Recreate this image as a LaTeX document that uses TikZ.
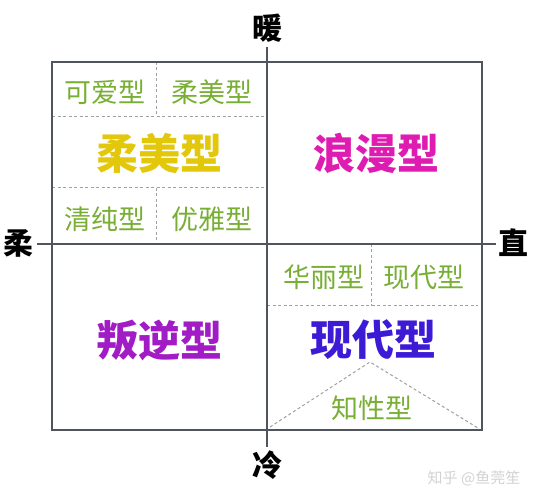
\documentclass[tikz,border=0pt]{standalone}
\usepackage{fontspec}
\setmainfont{Noto Sans CJK SC}
\usetikzlibrary{positioning}

\definecolor{framegray}{HTML}{4F545D}
\definecolor{dashgray}{HTML}{A0A0A4}
\definecolor{leafgreen}{HTML}{78AE34}
\definecolor{softyellow}{HTML}{E2C70A}
\definecolor{romanpink}{HTML}{DE1CB2}
\definecolor{rebelpurple}{HTML}{A21CC6}
\definecolor{modernblue}{HTML}{3C1AD6}

\begin{document}
\begin{tikzpicture}[x=1pt, y=-1pt,
    frame/.style = {draw=framegray, line width=1.5pt},
    divider/.style = {draw=dashgray, dash pattern=on 3pt off 2.5pt, line width=1pt},
    axislabel/.style = {font=\fontsize{30}{30}\selectfont\bfseries, inner sep=0pt},
    subtype/.style = {text=leafgreen, font=\fontsize{27}{27}\selectfont, inner sep=0pt},
    maintype/.style = {font=\fontsize{42}{42}\selectfont\bfseries, inner sep=0pt},
]
    \useasboundingbox (0,0) rectangle (536,497);

    % corners of the frame and ends of the two axes
    \coordinate (nw) at (52,62);
    \coordinate (se) at (482,430);
    \coordinate (top) at (267,47);
    \coordinate (bottom) at (267,447);
    \coordinate (left) at (37,244);
    \coordinate (right) at (496,244);

    % dashed sub-divisions, upper left quadrant
    \coordinate (ul1) at (52,117);
    \coordinate (ul2) at (52,188);
    \draw[divider] (ul1) -- (ul1 -| top);
    \draw[divider] (ul2) -- (ul2 -| top);
    \draw[divider] (156,62) -- (156,117);
    \draw[divider] (156,188) -- (156,244);

    % dashed sub-divisions, lower right quadrant
    \coordinate (lr1) at (267,306);
    \coordinate (lr2) at (478,306);
    \draw[divider] (lr1) -- (lr2);
    \draw[divider] (371,244) -- (371,306);
    \coordinate (apex) at (370,362);
    \draw[divider] (270,427) -- (apex) -- (478,428);

    % frame and axes
    \draw[frame] (nw) rectangle (se);
    \draw[frame] (top) -- (bottom);
    \draw[frame] (left) -- (right);

    % axis labels
    \node[axislabel] (warm) at (267,28) {暖};
    \node[axislabel] (cold) at (267,465) {冷};
    \node[axislabel] (soft) at (19,243) {柔};
    \node[axislabel] (straight) at (513,243) {直};

    % upper left
    \node[subtype] (cute) at (105,92) {可爱型};
    \node[subtype] (gentle) at (212,92) {柔美型};
    \node[maintype, text=softyellow] (softmain) at (159,153) {柔美型};
    \node[subtype] (pure) at (105,219) {清纯型};
    \node[subtype] (elegant) at (212,219) {优雅型};

    % upper right
    \node[maintype, text=romanpink] (romantic) at (376,153) {浪漫型};

    % lower left
    \node[maintype, text=rebelpurple] (rebel) at (159,340) {叛逆型};

    % lower right
    \node[subtype] (gorgeous) at (324,277) {华丽型};
    \node[subtype] (modernsub) at (424,277) {现代型};
    \node[maintype, text=modernblue] (modern) at (373,340) {现代型};
    \node[subtype] (smart) at (372,408) {知性型};

    % watermark
    \node[text=gray!35, font=\fontsize{15}{15}\selectfont, inner sep=0pt] (mark) at (474,478) {知乎 @鱼莞笙};
\end{tikzpicture}
\end{document}
